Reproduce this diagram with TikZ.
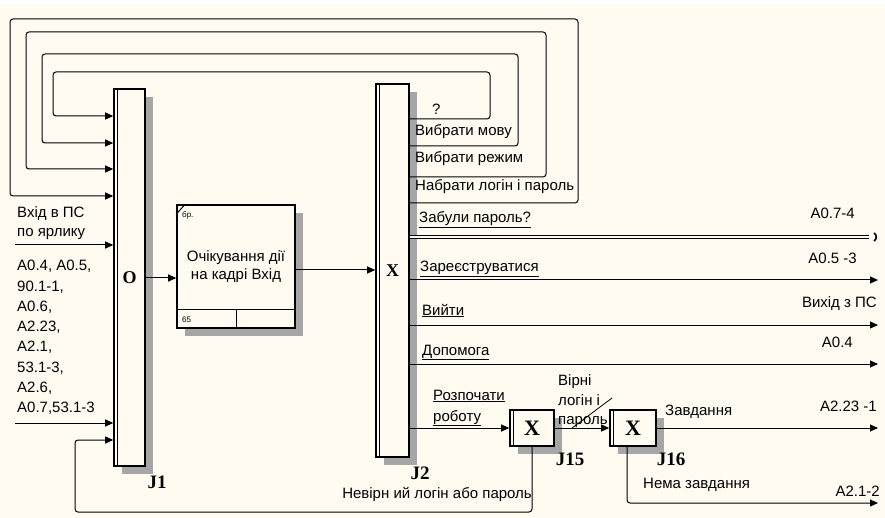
\documentclass[tikz,border=0pt]{standalone}
\usepackage{fontspec}
\setmainfont{Liberation Serif}
\newfontfamily\lbfont{Liberation Sans}
\usepackage{tikz}
\usetikzlibrary{arrows.meta,shadows}
\definecolor{paper}{HTML}{FFFBF0}

\begin{document}
\begin{tikzpicture}[
  x=1pt, y=-1pt,
  lbl/.style={font=\lbfont\fontsize{15}{20}\selectfont, inner sep=0pt, anchor=base west},
  lblr/.style={lbl, anchor=base east},
  tiny/.style={font=\lbfont\fontsize{8}{9}\selectfont, inner sep=0pt, anchor=west},
  jname/.style={font=\bfseries\fontsize{19}{19}\selectfont, inner sep=0pt},
  hatch/.style={drop shadow={shadow xshift=8pt, shadow yshift=-8pt, fill=black!35, opacity=1}},
  junc/.style={draw, line width=1.6pt, fill=paper, hatch, inner sep=0pt,
               font=\bfseries\fontsize{18}{18}\selectfont},
  uob/.style={draw, line width=1.6pt, fill=paper, hatch, minimum width=118pt,
              minimum height=123pt, align=center, font=\lbfont\fontsize{15}{18}\selectfont},
  link/.style={line width=1pt, -{Triangle[length=8pt,width=7pt]}},
  loopl/.style={link, rounded corners=3pt}
]
\useasboundingbox (0,0) rectangle (885,518);
\fill[paper] (0,5) rectangle (885,518);

% junctions and the unit of behaviour
\node[junc, minimum width=31pt, minimum height=377pt] (J1) at (129.5,277.5) {O};
\node[junc, minimum width=33pt, minimum height=373pt] (J2) at (392.5,270.5) {X};
\node[uob] (act) at (236,266.5) {Очікування дії\\на кадрі Вхід};
\node[junc, minimum width=44pt, minimum height=36pt,
      font=\bfseries\fontsize{22}{22}\selectfont] (J15) at (532,428) {X};
\node[junc, minimum width=46pt, minimum height=36pt,
      font=\bfseries\fontsize{22}{22}\selectfont] (J16) at (633,428) {X};

\foreach \j in {J1,J2,J15,J16}
  \draw[line width=1.2pt] ([xshift=4.5pt]\j.north west) -- ([xshift=4.5pt]\j.south west);

\draw[line width=1.2pt] ([yshift=19pt]act.south west) -- ([yshift=19pt]act.south east);
\draw[line width=1.2pt] ([xshift=60pt,yshift=19pt]act.south west) -- ([xshift=60pt]act.south west);
\draw[line width=1pt] ([yshift=-10pt]act.north west) -- ([xshift=9pt]act.north west);
\node[tiny] (actref) at (182,215) {бр.};
\node[tiny] (actnum) at (182,320) {65};

\node[jname] (nJ1)  at (157,482) {J1};
\node[jname] (nJ2)  at (420,473) {J2};
\node[jname] (nJ15) at (570,459) {J15};
\node[jname] (nJ16) at (671,459) {J16};

% inputs of J1
\coordinate (inA) at (15,245);
\coordinate (inB) at (15,423);
\draw[link] (inA) -- (J1.west |- inA);
\draw[link] (inB) -- (J1.west |- inB);
\node[lbl] (lin1) at (17,218) {Вхід в ПС};
\node[lbl] (lin2) at (17,237) {по ярлику};
\foreach \t [count=\i from 0] in {{A0.4, A0.5,},{90.1-1,},{A0.6,},{A2.23,},{A2.1,},{53.1-3,},{A2.6,},{A0.7,53.1-3}}
  \node[lbl] (lsrc\i) at (17,271+20.2*\i) {\t};

% loops back from J2 to J1
\foreach \yo/\xr/\yt/\xl/\yi in {119/490/72/53/116, 146/518/54/42/143, 177/546/32/26/169, 203/578/19/10/196}
  \draw[loopl] (J2.east |- 0,\yo) -| (\xr,\yt) -| (\xl,\yi) -- (J1.west |- 0,\yi);
\node[lbl] (lq)   at (432,115) {?};
\node[lbl] (lmov) at (415,136) {Вибрати мову};
\node[lbl] (lrej) at (415,163) {Вибрати режим};
\node[lbl] (llog) at (415,191) {Набрати логін і пароль};

\draw[link] (J1.east |- 0,278) -- (act.west |- 0,278);
\draw[link] (act.east |- 0,270) -- (J2.west |- 0,270);

% outputs of J2
\coordinate (fgt) at (869,237);
\draw[line width=1.6pt, double=paper, double distance=1.3pt] (J2.east |- fgt) -- (fgt);
\draw[line width=1.6pt] (874,233) to[bend left=70] (874,241);
\coordinate (reg) at (878,280);
\coordinate (ext) at (878,325);
\coordinate (hlp) at (878,364);
\draw[link] (J2.east |- reg) -- (reg);
\draw[link] (J2.east |- ext) -- (ext);
\draw[link] (J2.east |- hlp) -- (hlp);
\draw[link] (J2.east |- J15.west) -- (J15.west);

\node[lbl] (lfgt) at (419,223) {\underline{Забули пароль?}};
\node[lbl] (lreg) at (420,272) {\underline{Зареєструватися}};
\node[lbl] (lext) at (422,315) {\underline{Вийти}};
\node[lbl] (lhlp) at (422,355) {\underline{Допомога}};
\node[lbl] (lst1) at (433,400) {\underline{Розпочати}};
\node[lbl] (lst2) at (433,421) {\underline{роботу}};

\node[lblr] (rfgt) at (855,219) {A0.7-4};
\node[lblr] (rreg) at (857,264) {A0.5 -3};
\node[lblr] (rext) at (877,307) {Вихід з ПС};
\node[lblr] (rhlp) at (853,347) {A0.4};

% J15, J16
\draw[link] (J15.east) -- (J16.west);
\coordinate (sq1) at (572,428);
\coordinate (sq2) at (612,398);
\draw[line width=0.8pt] (sq1) -- (sq2);
\foreach \t/\yy [count=\i] in {Вірні/385, логін і/405, пароль/424}
  \node[lbl] (lok\i) at (558,\yy) {\t};

\coordinate (tsk) at (878,428);
\coordinate (ntsk) at (878,503);
\draw[link] (J16.east) -- (tsk);
\draw[link, rounded corners=3pt] (J16.south -| 627,0) |- (ntsk);
\draw[loopl] (J15.south) |- (75,512) |- (J1.west |- 0,440);

\node[lbl]  (ltsk)  at (665,415) {Завдання};
\node[lblr] (rtsk)  at (877,411) {A2.23 -1};
\node[lbl]  (lntsk) at (643,488) {Нема завдання};
\node[lblr] (rntsk) at (880,496) {A2.1-2};
\node[lblr] (lbad)  at (532,498) {Невірн ий логін або пароль};

\end{tikzpicture}
\end{document}
